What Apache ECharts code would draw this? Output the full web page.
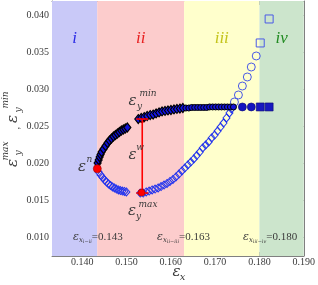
<!DOCTYPE html>
<html><head><meta charset="utf-8">
<script src="https://cdn.jsdelivr.net/npm/echarts@6/dist/echarts.min.js"></script>
<style>html,body{margin:0;padding:0;background:#fff}#c{width:318px;height:285px}</style>
</head><body><div id="c"></div>
<script>
const xTicks = [0.14, 0.15, 0.16, 0.17, 0.18, 0.19];
const yTicks = [0.010, 0.015, 0.020, 0.025, 0.030, 0.035, 0.040];
const bandEdges = [0.1332, 0.1434, 0.163, 0.180, 0.190];
const bandNames = ['i', 'ii', 'iii', 'iv'];
const bandColors = ['#c9c9f8', '#fccccc', '#ffffcc', '#cce5cc'];
const bandTextColors = ['#2b2be6', '#e82020', '#c4c41c', '#228b22'];
const transitionValues = ['0.143', '0.163', '0.180'];
const transitionSubs = ['i−ii', 'ii−iii', 'iii−iv'];

const upperBranchA = [[0.14349,0.01999],[0.14372,0.02040],[0.14394,0.02081],[0.14416,0.02115],[0.14439,0.02148],[0.14483,0.02189],[0.14528,0.02230],[0.14573,0.02270],[0.14618,0.02304],[0.14662,0.02331],[0.14707,0.02358],[0.14752,0.02378],[0.14797,0.02399],[0.14841,0.02419],[0.14886,0.02439],[0.14931,0.02453],[0.14975,0.02466],[0.15020,0.02480]];
const upperBranchB = [[0.15266,0.02594],[0.15333,0.02608],[0.15400,0.02621],[0.15467,0.02635],[0.15535,0.02648],[0.15602,0.02655],[0.15669,0.02669],[0.15736,0.02683],[0.15803,0.02696],[0.15870,0.02703],[0.15937,0.02710],[0.16004,0.02716],[0.16072,0.02723],[0.16139,0.02730],[0.16206,0.02736],[0.16273,0.02743]];
const upperDots = [[0.16340,0.02743],[0.16407,0.02743],[0.16474,0.02750],[0.16541,0.02750],[0.16608,0.02750],[0.16675,0.02750],[0.16743,0.02750],[0.16810,0.02750],[0.16877,0.02757],[0.16944,0.02757],[0.17011,0.02757],[0.17078,0.02757],[0.17145,0.02757],[0.17212,0.02757],[0.17279,0.02757],[0.17346,0.02757],[0.17414,0.02757]];
const upperCircles = [[0.17615,0.02757],[0.17816,0.02757]];
const upperSquares = [[0.18018,0.02757],[0.18219,0.02757]];

const lowerBranchA = [[0.14372,0.01878],[0.14416,0.01838],[0.14461,0.01804],[0.14506,0.01770],[0.14550,0.01743],[0.14595,0.01716],[0.14640,0.01696],[0.14685,0.01676],[0.14729,0.01662],[0.14774,0.01648],[0.14819,0.01635],[0.14864,0.01628],[0.14908,0.01621],[0.14953,0.01615],[0.14998,0.01608]];
const lowerBranchB = [[0.15311,0.01594],[0.15378,0.01594],[0.15445,0.01608],[0.15512,0.01621],[0.15579,0.01635],[0.15646,0.01648],[0.15714,0.01662],[0.15781,0.01682],[0.15848,0.01702],[0.15915,0.01723],[0.15982,0.01750],[0.16049,0.01777],[0.16116,0.01811],[0.16184,0.01851],[0.16251,0.01892],[0.16318,0.01932],[0.16385,0.01973],[0.16452,0.02013],[0.16519,0.02054],[0.16586,0.02101],[0.16653,0.02148],[0.16720,0.02203],[0.16787,0.02243],[0.16855,0.02284],[0.16922,0.02338],[0.16989,0.02378],[0.17056,0.02432],[0.17123,0.02486],[0.17190,0.02540],[0.17257,0.02608],[0.17324,0.02676],[0.17369,0.02730]];
const lowerCircles = [[0.17436,0.02824],[0.17526,0.02919],[0.17615,0.03040],[0.17727,0.03162],[0.17816,0.03297],[0.17928,0.03446]];
const lowerSquares = [[0.18018,0.03622],[0.18219,0.03946]];

const neckingPoint = [[0.14342, 0.01923]];
const eyMaxPoint = [[0.1534, 0.0160]];
const eyMinPoint = [[0.15356, 0.02594]];
const wBar = [[0.15356, 0.02594, 0.01594]];

const X_MIN = 0.1332, X_MAX = 0.190, Y_MIN = 0.00743, Y_MAX = 0.04189;
const SERIF = 'Liberation Serif';
const ITAL = 'DejaVu Serif';
const axisCol = '#808080';
const txtCol = '#3a3a3a';

const chart = echarts.init(document.getElementById('c'), null, {renderer: 'canvas'});

function axisX(pos, show) {
  return {
    type: 'value', min: X_MIN, max: X_MAX, position: pos,
    axisLine: {show: true, onZero: false, lineStyle: {color: axisCol, width: 1}},
    axisTick: {show: true, inside: true, length: 4, customValues: xTicks, lineStyle: {color: axisCol}},
    axisLabel: {show: show, customValues: xTicks, formatter: v => v.toFixed(3), fontFamily: SERIF, fontSize: 10, color: txtCol, margin: 1},
    splitLine: {show: false}
  };
}
function axisY(pos, show) {
  return {
    type: 'value', min: Y_MIN, max: Y_MAX, position: pos,
    axisLine: {show: true, onZero: false, lineStyle: {color: axisCol, width: 1}},
    axisTick: {show: true, inside: true, length: 4, customValues: yTicks, lineStyle: {color: axisCol}},
    axisLabel: {show: show, customValues: yTicks, formatter: v => v.toFixed(3), fontFamily: SERIF, fontSize: 10, color: txtCol, margin: 3},
    splitLine: {show: false}
  };
}

const bandAreas = bandNames.map((n, i) => [
  {xAxis: bandEdges[i], itemStyle: {color: bandColors[i], opacity: 1}, name: n,
   label: {show: true, position: 'insideTop', offset: [0, 24], color: bandTextColors[i], fontFamily: SERIF, fontStyle: 'italic', fontSize: 17}},
  {xAxis: bandEdges[i + 1]}
]);

function sc(data, symbol, size, fill, border, bw, z) {
  return {type: 'scatter', data: data, symbol: symbol, symbolSize: size, z: z, silent: true,
    itemStyle: {color: fill, borderColor: border, borderWidth: bw, opacity: 1}};
}

const series = [
  {type: 'line', data: [], markArea: {silent: true, data: bandAreas}, z: 0},
  sc(lowerBranchA, 'diamond', [7, 8], 'rgba(0,0,0,0)', '#2233ee', 1, 2),
  sc(lowerBranchB, 'diamond', [7, 8], 'rgba(0,0,0,0)', '#2233ee', 1, 2),
  sc(lowerCircles, 'circle', 8, 'rgba(0,0,0,0)', '#4a5ae6', 1, 2),
  sc(lowerSquares, 'rect', 8, 'rgba(0,0,0,0)', '#4a5ae6', 1, 2),
  sc(upperBranchA, 'diamond', [7, 9], '#1010d8', '#000', 1.2, 3),
  sc(upperBranchB, 'diamond', [7, 9], '#1414e8', '#000', 1.1, 3),
  sc(upperDots, 'circle', 6, '#1414d8', '#000', 1, 3),
  sc(upperCircles, 'circle', 8, '#1414c0', '#0a0a70', 0.6, 3),
  sc(upperSquares, 'rect', 8, '#1818c0', '#0a0a70', 0.6, 3),
  sc(eyMinPoint, 'circle', 7, '#ff0000', '#990000', 0.6, 2),
  {type: 'custom', z: 5, silent: true, data: wBar,
   renderItem: (params, api) => {
     const x = api.value(0);
     const p1 = api.coord([x, api.value(1)]), p2 = api.coord([x, api.value(2)]);
     const st = {stroke: '#ff0000', lineWidth: 1.6};
     return {type: 'group', children: [
       {type: 'line', shape: {x1: p1[0], y1: p1[1], x2: p2[0], y2: p2[1]}, style: st},
       {type: 'line', shape: {x1: p1[0] - 6, y1: p1[1], x2: p1[0] + 6, y2: p1[1]}, style: st},
       {type: 'line', shape: {x1: p2[0] - 6, y1: p2[1], x2: p2[0] + 6, y2: p2[1]}, style: st}
     ]};
   }},
  sc(eyMaxPoint, 'circle', 7, '#ff0000', '#990000', 0.6, 6),
  sc(neckingPoint, 'circle', 8, '#ff0000', '#990000', 0.6, 6)
];

function t(x, y, text, size, italic, rot, font) {
  return {type: 'text', x: x, y: y, rotation: rot || 0, z: 100, silent: true,
    style: {text: text, fontSize: size, fontFamily: font || (italic ? ITAL : SERIF), fontStyle: italic ? 'italic' : 'normal',
      fill: txtCol, align: 'center', verticalAlign: 'middle'}};
}

const R = Math.PI / 2;
const graphics = [
  t(82, 167, 'ε', 15, true), t(89.5, 160, 'n', 9, true),
  t(132.5, 101, 'ε', 15, true), t(139.5, 107, 'y', 9, true), t(148, 94, 'min', 9, true),
  t(132.5, 155, 'ε', 15, true), t(140, 148, 'w', 9, true),
  t(132, 211, 'ε', 15, true), t(138.5, 217, 'y', 9, true), t(148, 205, 'max', 9, true),
  t(176.5, 272, 'ε', 15, true), t(182.5, 277, 'x', 10, true),
  t(13, 163, 'ε', 15, true, R), t(18.5, 153, 'y', 9, true, R), t(6, 151, 'max', 9, true, R),
  t(16, 128, ',', 11, false, R),
  t(13.5, 119, 'ε', 15, true, R), t(18.5, 110, 'y', 9, true, R), t(6, 100, 'min', 9, true, R)
];
const transX = [73, 157, 243];
transitionValues.forEach((v, i) => {
  graphics.push({type: 'text', x: transX[i], y: 237, z: 100, silent: true,
    style: {text: '{e|ε}{s|x}{ss|' + transitionSubs[i] + '}{n|=' + v + '}', fill: txtCol, align: 'left', verticalAlign: 'middle',
      rich: {
        e: {fontFamily: ITAL, fontStyle: 'italic', fontSize: 11, lineHeight: 14, verticalAlign: 'middle', fill: txtCol},
        s: {fontFamily: ITAL, fontStyle: 'italic', fontSize: 7, lineHeight: 6, verticalAlign: 'bottom', fill: txtCol},
        ss: {fontFamily: ITAL, fontStyle: 'italic', fontSize: 5, lineHeight: 2, verticalAlign: 'bottom', fill: txtCol},
        n: {fontFamily: SERIF, fontSize: 11, lineHeight: 14, verticalAlign: 'middle', fill: txtCol}
      }}});
});

chart.setOption({
  animation: false,
  backgroundColor: '#fff',
  grid: {left: 52, right: 12, top: 1, bottom: 29, containLabel: false},
  xAxis: [axisX('bottom', true), axisX('top', false)],
  yAxis: [axisY('left', true), axisY('right', false)],
  series: series,
  graphic: graphics
});
</script></body></html>
